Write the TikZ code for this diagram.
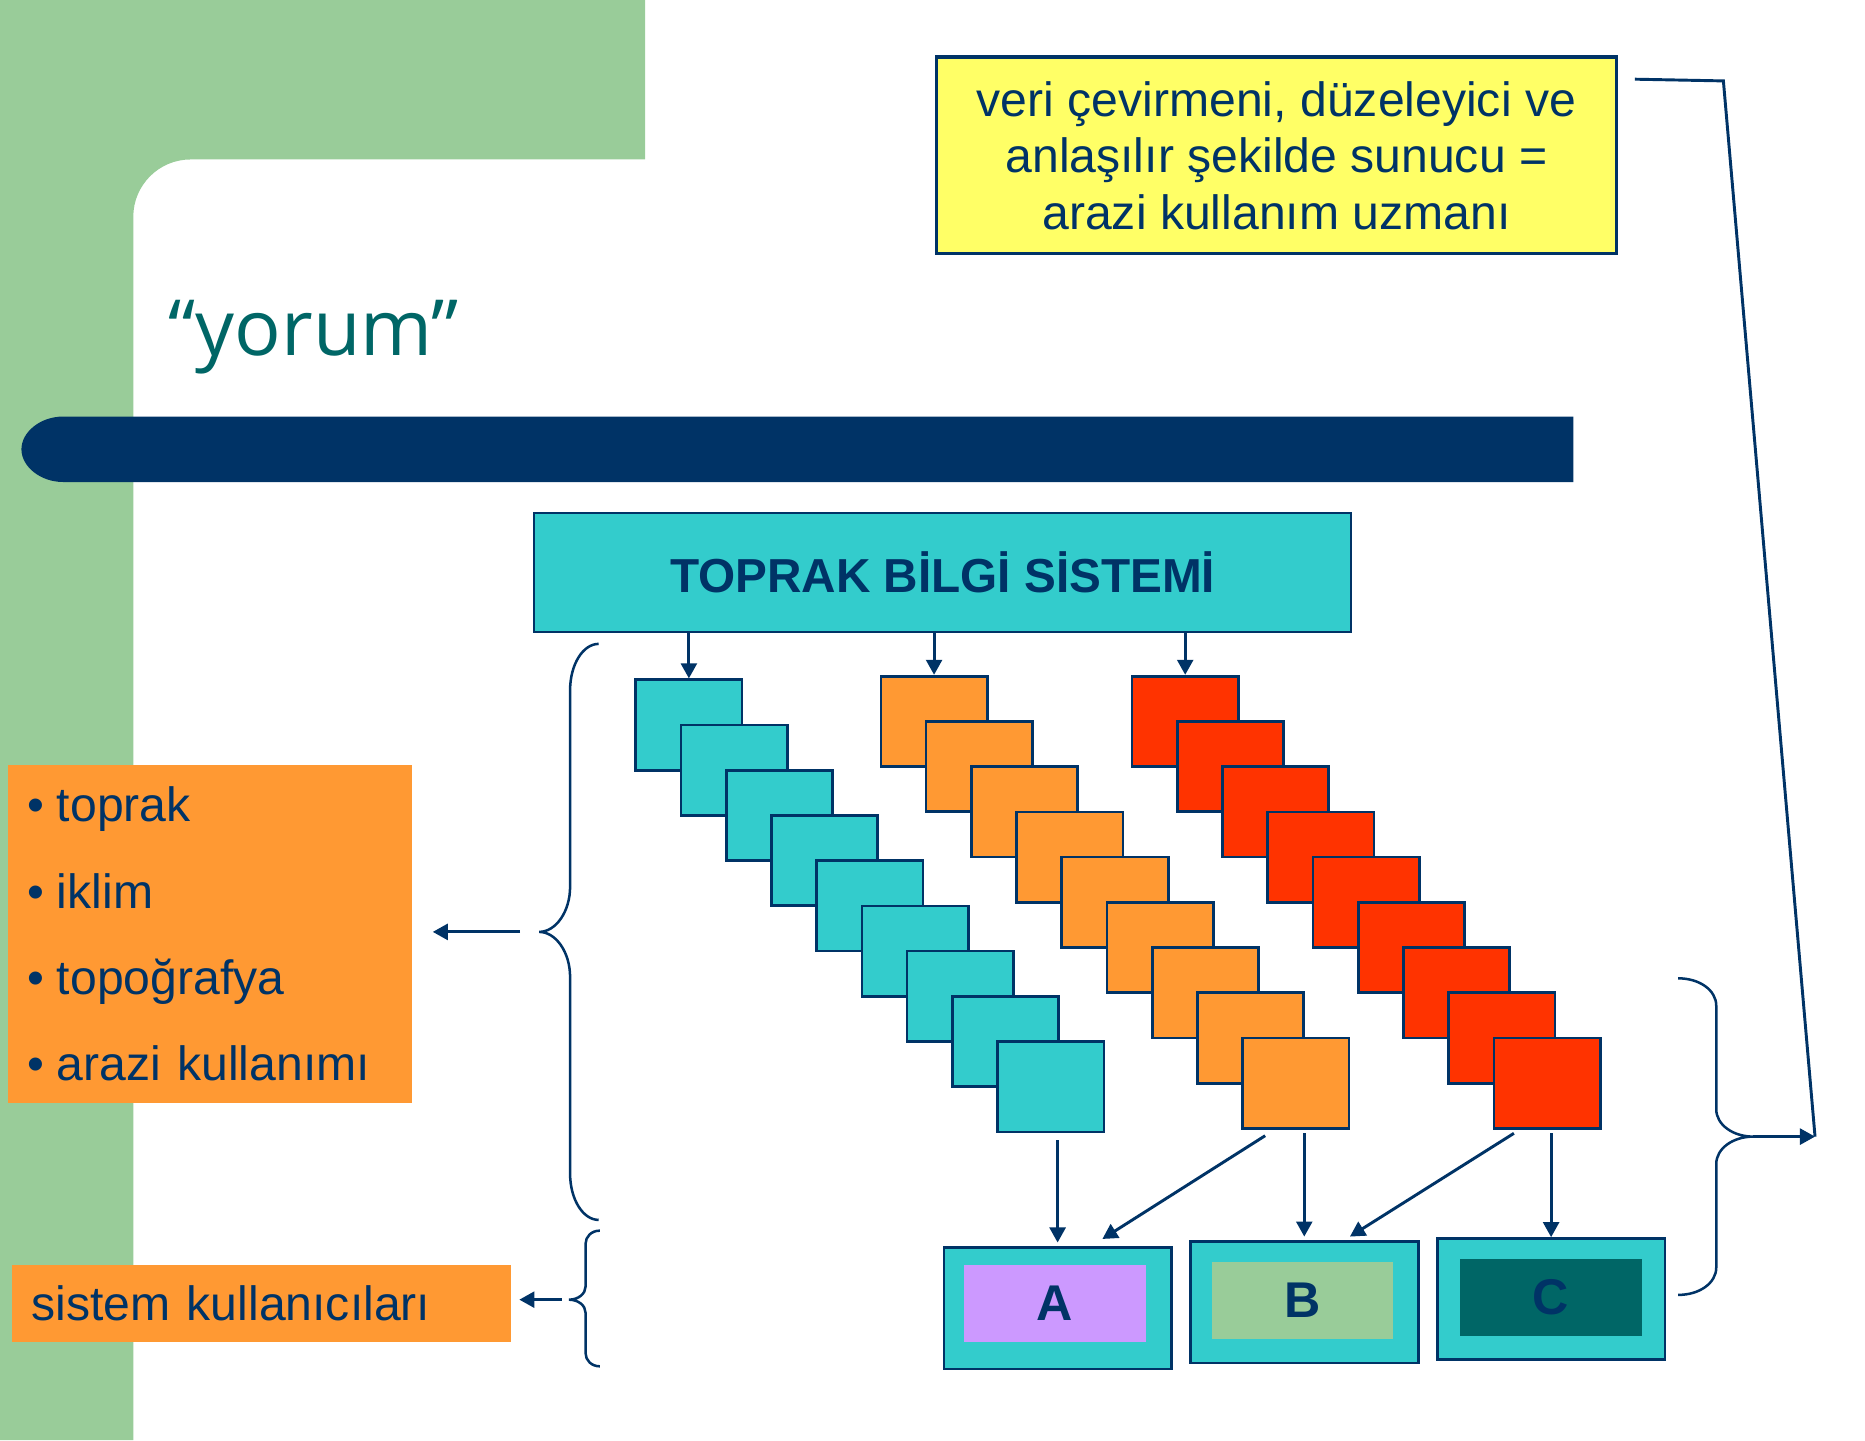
\documentclass[tikz,border=0pt]{standalone}
\usepackage{fontspec}
\setmainfont{Liberation Sans}
\newfontfamily\titlefont{Open Sans}
\usetikzlibrary{arrows.meta}
\definecolor{slidegreen}{HTML}{99CC99}
\definecolor{navy}{HTML}{003366}
\definecolor{tealbox}{HTML}{33CCCC}
\definecolor{orangebox}{HTML}{FF9933}
\definecolor{redbox}{HTML}{FF3300}
\definecolor{titleteal}{HTML}{006666}
\definecolor{lilac}{HTML}{CC99FF}
\definecolor{noteyellow}{HTML}{FFFF66}

\begin{document}
\begin{tikzpicture}[x=0.01cm, y=-0.01cm,
    arr/.style={navy, line width=0.7pt, -{Triangle[length=3.6pt,width=3.8pt]}},
    brace/.style={navy, line width=0.6pt},
    sq/.style={draw=navy, line width=0.65pt, minimum width=0.893cm, minimum height=0.759cm, inner sep=0pt, anchor=north west},
    outbox/.style={draw=navy, line width=0.6pt, fill=tealbox, inner sep=0pt, anchor=north west},
    inbox/.style={inner sep=0pt, anchor=north west, text=navy, font=\bfseries\fontsize{12}{14}\selectfont}]
            \useasboundingbox (0,0) rectangle (1567,1210);
            % slide background
            \fill[slidegreen] (0,0) -- (542,0) -- (542,134) -- (160,134)
                  .. controls (133.6,134) and (112,155.6) .. (112,182)
                  -- (112,1210) -- (0,1210) -- cycle;
            \fill[navy] (1322,350) -- (53,350) .. controls (34,350) and (18,363) .. (18,377.5)
                  .. controls (18,392) and (34,405) .. (53,405) -- (1322,405) -- cycle;
            \node[anchor=base west, inner sep=0pt, text=titleteal, font=\titlefont\fontsize{18.5}{22}\selectfont] (title) at (141,299) {“yorum”};
            % boxes
            \node[draw=navy, line width=0.8pt, fill=noteyellow, text=navy, minimum width=5.71cm, minimum height=1.65cm,
                  align=center, font=\fontsize{11.5}{13.5}\selectfont] (expert) at (1072.5,130.5)
                  {veri çevirmeni, düzeleyici ve\\anlaşılır şekilde sunucu =\\arazi kullanım uzmanı};
            \node[draw=navy, line width=0.6pt, fill=tealbox, text=navy, minimum width=6.86cm, minimum height=1cm,
                  font=\bfseries\fontsize{11.4}{13}\selectfont] (tbs) at (792,481) {TOPRAK BİLGİ SİSTEMİ};
            \node[fill=orangebox, text=navy, anchor=north west, minimum height=2.84cm, inner xsep=0.165cm,
                  text width=3.06cm, align=left, font=\fontsize{11.5}{20.6}\selectfont] (factors) at (6,642)
                  {\textbullet\hspace{0.26em}toprak\\ \textbullet\hspace{0.26em}iklim\\ \textbullet\hspace{0.26em}topoğrafya\\ \textbullet\hspace{0.26em}arazi kullanımı};
            \node[fill=orangebox, text=navy, anchor=north west, minimum height=0.646cm, inner xsep=0.167cm, inner ysep=0pt,
                  text width=3.86cm, align=left, font=\fontsize{11.5}{13.5}\selectfont] (users) at (9.3,1062) {sistem kullanıcıları};
            % map layers
            \foreach \i in {1,...,9}
              \node[sq, fill=tealbox] (t\i) at ({533+38*(\i-1)},{570+38*(\i-1)}) {};
            \foreach \i in {1,...,9}
              \node[sq, fill=orangebox] (o\i) at ({739+38*(\i-1)},{567+38*(\i-1)}) {};
            \foreach \i in {1,...,9}
              \node[sq, fill=redbox] (r\i) at ({950+38*(\i-1)},{567+38*(\i-1)}) {};
            % results
            \node[outbox, minimum width=1.91cm, minimum height=1.02cm] (A) at (792,1047) {};
            \node[inbox, fill=lilac, minimum width=1.53cm, minimum height=0.65cm] (Ain) at (809,1062) {A};
            \node[outbox, minimum width=1.915cm, minimum height=1.02cm] (B) at (999,1042) {};
            \node[inbox, fill=slidegreen, minimum width=1.524cm, minimum height=0.643cm] (Bin) at (1017.6,1059.7) {B};
            \node[outbox, minimum width=1.909cm, minimum height=1.015cm] (C) at (1206.7,1039.5) {};
            \node[inbox, fill=titleteal, minimum width=1.53cm, minimum height=0.646cm] (Cin) at (1226,1057) {C};
            % arrows
            \draw[arr] (tbs.south -| t1.north) -- (t1.north);
            \draw[arr] (tbs.south -| o1.north) -- (o1.north);
            \draw[arr] (tbs.south -| r1.north) -- (r1.north);
            \draw[arr, shorten <=0.06cm, shorten >=0.03cm] (t9.south -| A.north) -- (A.north);
            \draw[arr] ([shift={(20,5)}]o9.south west) -- ([shift={(-59,-6)}]A.north east);
            \draw[arr, shorten <=0.03cm, shorten >=0.03cm] (o9.south -| B.north) -- (B.north);
            \draw[arr] ([shift={(18,3)}]r9.south west) -- ([shift={(-58.5,-3)}]B.north east);
            \draw[arr, shorten <=0.03cm] (r9.south -| C.north) -- (C.north);
            % braces
            \draw[brace] (503,541) .. controls (490,541) and (479,558) .. (479,580) -- (479,745)
                  .. controls (479,766) and (467,783) .. (453,783)
                  .. controls (467,783) and (479,800) .. (479,821) -- (479,986)
                  .. controls (479,1008) and (490,1025) .. (503,1025);
            \draw[brace] (504,1034) .. controls (497,1034) and (492,1039) .. (492,1045) -- (492,1081)
                  .. controls (492,1087) and (486,1092) .. (478,1092)
                  .. controls (486,1092) and (492,1097) .. (492,1103) -- (492,1137)
                  .. controls (492,1143) and (497,1148) .. (504,1148);
            \draw[brace] (1410,822) .. controls (1428,822) and (1442,832) .. (1442,845) -- (1442,932)
                  .. controls (1442,945) and (1456,955) .. (1473,955)
                  .. controls (1456,955) and (1442,965) .. (1442,978) -- (1442,1065)
                  .. controls (1442,1078) and (1428,1088) .. (1410,1088);
            \coordinate (ltip) at (453,783);
            \coordinate (stip) at (478,1092);
            \coordinate (rtip) at (1473,955);
            \coordinate (bend) at (1448,68);
            \coordinate (uend) at (1525,955);
            \draw[arr, shorten <=0.16cm, shorten >=0.17cm] (ltip) -- (ltip -| factors.east);
            \draw[arr, shorten <=0.06cm, shorten >=0.06cm] (stip) -- (stip -| users.east);
            \draw[navy, line width=0.7pt] ([shift={(14,20)}]expert.north east) -- (bend) -- (uend);
            \draw[arr] (rtip) -- (uend);
        \end{tikzpicture}
\end{document}
